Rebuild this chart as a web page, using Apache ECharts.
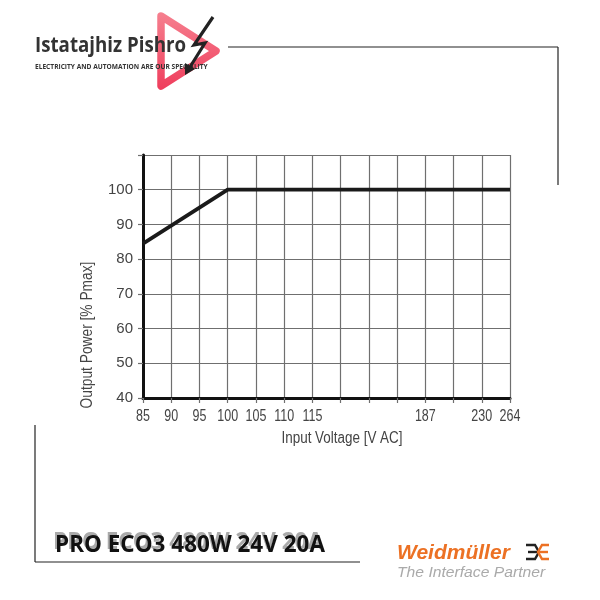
<!DOCTYPE html>
<html>
<head>
<meta charset="utf-8">
<script src="https://cdn.jsdelivr.net/npm/echarts@6/dist/echarts.min.js"></script>
<style>
html,body{margin:0;padding:0;background:#fff;}
#main{width:600px;height:600px;}
</style>
</head>
<body>
<div id="main"></div>
<script>
// Input voltage tick labels (equally spaced positions; blanks are unlabeled grid columns)
var voltageLabels = ['85', '90', '95', '100', '105', '110', '115', '', '', '', '187', '', '230', '264'];
// Output power [% Pmax] at each position (null = not specified, line connects through)
var outputPower = [84.5, null, null, 100, 100, 100, 100, 100, 100, 100, 100, 100, 100, 100];
var yMin = 40, yMax = 110, yStep = 10;

var chart = echarts.init(document.getElementById('main'), null, {renderer: 'canvas'});
var sans = "'Liberation Sans', Arial, sans-serif";

var option = {
  backgroundColor: '#ffffff',
  animation: false,
  grid: {left: 143, right: 90, top: 155, bottom: 202, containLabel: false},
  xAxis: {
    type: 'category',
    data: voltageLabels,
    boundaryGap: false,
    axisLine: {show: true, lineStyle: {color: '#111', width: 3}},
    axisTick: {show: true, length: 5, interval: 0, lineStyle: {color: '#6f6f6f', width: 1.2}},
    axisLabel: {show: false},
    splitLine: {show: true, interval: 0, lineStyle: {color: '#6f6f6f', width: 1.2}}
  },
  yAxis: {
    type: 'value',
    min: yMin, max: yMax, interval: yStep,
    axisLine: {show: true, lineStyle: {color: '#111', width: 3}},
    axisTick: {show: true, length: 5, lineStyle: {color: '#6f6f6f', width: 1.2}},
    axisLabel: {
      margin: 10, fontFamily: sans, fontSize: 15, color: '#444',
      formatter: function (v) { return v >= yMax ? '' : String(v); }
    },
    splitLine: {show: true, lineStyle: {color: '#6f6f6f', width: 1.2}}
  },
  series: [{
    type: 'line',
    data: outputPower,
    connectNulls: true,
    showSymbol: false,
    symbol: 'none',
    lineStyle: {color: '#1a1a1a', width: 3.8},
    z: 5
  }]
};
chart.setOption(option);

var decor = [
  // axis titles
  {type: 'text', x: 342, y: 439, scaleX: 0.84, style: {text: 'Input Voltage [V AC]', font: '16px ' + sans, fill: '#444', align: 'center', verticalAlign: 'middle'}},
  {type: 'text', x: 88, y: 335, rotation: Math.PI / 2, scaleX: 0.86, style: {text: 'Output Power [% Pmax]', font: '16px ' + sans, fill: '#444', align: 'center', verticalAlign: 'middle'}},
  // frame lines
  {type: 'line', shape: {x1: 228, y1: 47, x2: 558, y2: 47}, style: {stroke: '#222', lineWidth: 1.2}},
  {type: 'line', shape: {x1: 558, y1: 47, x2: 558, y2: 185}, style: {stroke: '#222', lineWidth: 1.2}},
  {type: 'line', shape: {x1: 35, y1: 425, x2: 35, y2: 562}, style: {stroke: '#222', lineWidth: 1.2}},
  {type: 'line', shape: {x1: 35, y1: 562, x2: 360, y2: 562}, style: {stroke: '#222', lineWidth: 1.2}},
  // logo: pink play triangle
  {type: 'polygon', shape: {points: [[161, 16], [216, 51], [161, 86]]},
   style: {fill: 'none', stroke: new echarts.graphic.LinearGradient(0, 0, 0, 1, [{offset: 0, color: '#f6808f'}, {offset: 1, color: '#ef3d5c'}]), lineWidth: 7.5, lineJoin: 'round'}},
  // logo text
  {type: 'text', x: 35, y: 46, scaleX: 0.85, style: {text: 'Istatajhiz Pishro', font: 'bold 22px "Open Sans", sans-serif', fill: '#333', verticalAlign: 'middle'}},
  {type: 'text', x: 35, y: 67, style: {text: 'ELECTRICITY AND AUTOMATION ARE OUR SPECIALITY', font: 'bold 6.6px "Open Sans", sans-serif', fill: '#333', verticalAlign: 'middle'}},
  // lightning bolt
  {type: 'polyline', shape: {points: [[213, 17], [194, 45], [205, 43], [190, 67]]}, style: {stroke: '#222', lineWidth: 3.2, fill: 'none', lineJoin: 'miter'}},
  {type: 'polygon', shape: {points: [[185, 75], [185, 63], [195, 69]]}, style: {fill: '#222'}},
  // product title with shadow
  {type: 'text', x: 53, y: 543, style: {text: 'PRO ECO3 480W 24V 20A', font: 'bold 22.5px "Open Sans", sans-serif', fill: '#aaa', verticalAlign: 'middle'}},
  {type: 'text', x: 55, y: 546, style: {text: 'PRO ECO3 480W 24V 20A', font: 'bold 22.5px "Open Sans", sans-serif', fill: '#111', verticalAlign: 'middle'}},
  // Weidmüller logo
  {type: 'text', x: 397, y: 553, style: {text: 'Weidmüller', font: 'italic bold 21px "Liberation Sans", sans-serif', fill: '#ec7124', verticalAlign: 'middle'}},
  {type: 'text', x: 397, y: 573, scaleX: 1.12, style: {text: 'The Interface Partner', font: 'italic 14px "Liberation Sans", sans-serif', fill: '#aaa', verticalAlign: 'middle'}},
  {type: 'polyline', shape: {points: [[526, 545], [535, 545], [539, 552], [535, 559], [526, 559]]}, style: {stroke: '#222', lineWidth: 2.4, fill: 'none'}},
  {type: 'line', shape: {x1: 528, y1: 552, x2: 539, y2: 552}, style: {stroke: '#222', lineWidth: 2.4}},
  {type: 'polyline', shape: {points: [[549, 545], [542, 545], [538, 552], [542, 559], [549, 559]]}, style: {stroke: '#ec7124', lineWidth: 2.4, fill: 'none'}},
  {type: 'line', shape: {x1: 539, y1: 552, x2: 548, y2: 552}, style: {stroke: '#ec7124', lineWidth: 2.4}}
];

// x tick labels, placed through the category axis scale, condensed like the original
var xLabelY = chart.convertToPixel({yAxisIndex: 0}, yMin) + 19;
var xLabels = voltageLabels.map(function (lab, i) {
  return {type: 'text', x: chart.convertToPixel({xAxisIndex: 0}, i), y: xLabelY, scaleX: 0.78,
    style: {text: lab, font: '16px ' + sans, fill: '#444', align: 'center', verticalAlign: 'middle'}};
});
chart.setOption({graphic: decor.concat(xLabels)});
</script>
</body>
</html>
